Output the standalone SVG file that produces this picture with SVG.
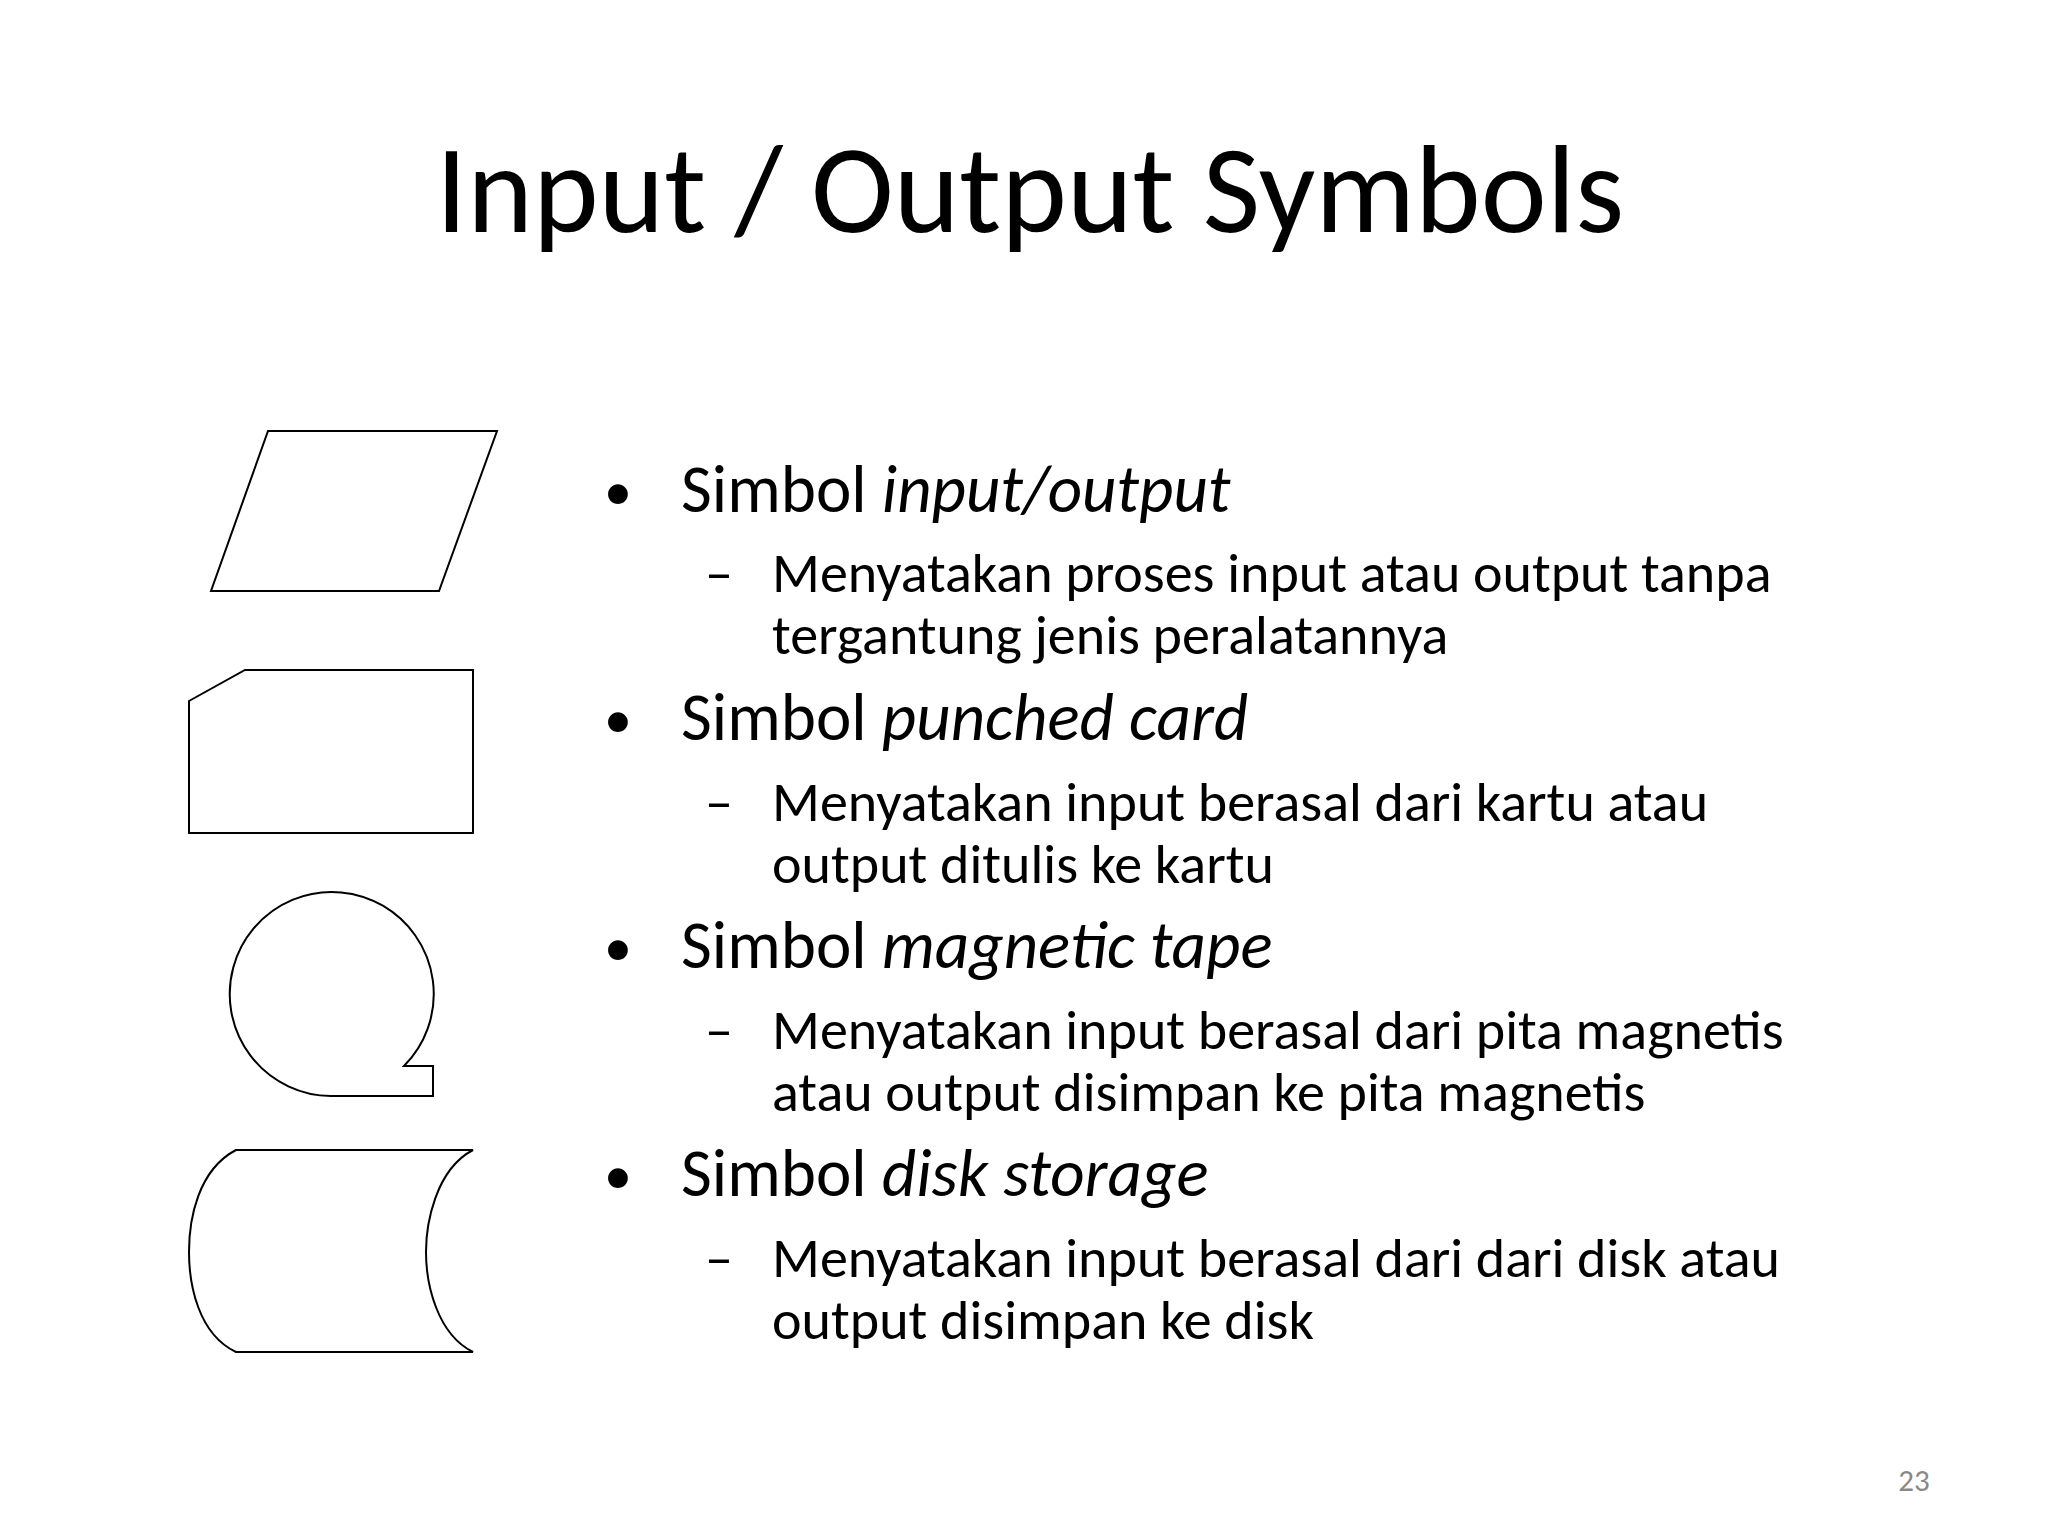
<svg xmlns="http://www.w3.org/2000/svg" width="2048" height="1536" viewBox="0 0 2048 1536">
<style>
text{font-family:Carlito,Lato,"Open Sans",sans-serif;fill:#000}
.t{font-size:125px}
.b{font-size:67px}
.bl{font-size:56px}
.s{font-size:56px}
.sh{fill:none;stroke:#000;stroke-width:2}
</style>
<rect width="2048" height="1536" fill="#fff"/>
<text class="t" x="1030" y="232" text-anchor="middle">Input / Output Symbols</text>
<g id="io"><path class="sh" d="M268,431 L497,431 L439,591 L211,591 Z"/></g>
<g id="card"><path class="sh" d="M189,701 L245,670 L473,670 L473,833 L189,833 Z"/></g>
<g id="tape"><path class="sh" d="M331,1096 A102,102 0 1 1 404,1066 L433,1066 L433,1096 Z"/></g>
<g id="disk"><path class="sh" d="M236,1150 L473,1150 C435,1170 426,1225 426,1252 C426,1284 437,1334 473,1352 L236,1352 C198,1334 189,1284 189,1252 C189,1219 198,1170 236,1150 Z"/></g>
<g id="texts">
<text class="bl" x="604" y="510">•</text><text class="b" x="681" y="512">Simbol <tspan font-style="italic">input/output</tspan></text>
<text class="s" x="705" y="592">–</text><text class="s" x="772" y="592">Menyatakan proses input atau output tanpa</text>
<text class="s" x="772" y="654">tergantung jenis peralatannya</text>
<text class="bl" x="604" y="738">•</text><text class="b" x="681" y="740">Simbol <tspan font-style="italic">punched card</tspan></text>
<text class="s" x="705" y="821">–</text><text class="s" x="772" y="821">Menyatakan input berasal dari kartu atau</text>
<text class="s" x="772" y="883">output ditulis ke kartu</text>
<text class="bl" x="604" y="966">•</text><text class="b" x="681" y="968">Simbol <tspan font-style="italic">magnetic tape</tspan></text>
<text class="s" x="705" y="1049">–</text><text class="s" x="772" y="1049">Menyatakan input berasal dari pita magnetis</text>
<text class="s" x="772" y="1111">atau output disimpan ke pita magnetis</text>
<text class="bl" x="604" y="1194">•</text><text class="b" x="681" y="1196">Simbol <tspan font-style="italic">disk storage</tspan></text>
<text class="s" x="705" y="1277">–</text><text class="s" x="772" y="1277">Menyatakan input berasal dari dari disk atau</text>
<text class="s" x="772" y="1339">output disimpan ke disk</text>
<text x="1914" y="1491" text-anchor="middle" font-size="31" style="fill:#888">23</text>
</g>
</svg>
